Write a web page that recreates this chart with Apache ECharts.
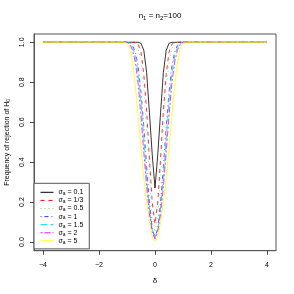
<!DOCTYPE html>
<html><head><meta charset="utf-8">
<script src="https://cdn.jsdelivr.net/npm/echarts@6/dist/echarts.min.js"></script>
<style>html,body{margin:0;padding:0;background:#fff}#c{width:294px;height:294px}</style>
</head><body><div id="c"></div>
<script>
const delta = [-4, -1.1, -1.0, -0.9, -0.8, -0.7, -0.6, -0.5, -0.4, -0.3, -0.2, -0.1, 0, 0.1, 0.2, 0.3, 0.4, 0.5, 0.6, 0.7, 0.8, 0.9, 1.0, 1.1, 4];
const sigma01  = [1, 1, 1, 1, 1, 1, 1, 0.995, 0.96, 0.85, 0.65, 0.44, 0.27, 0.44, 0.65, 0.85, 0.96, 0.995, 1, 1, 1, 1, 1, 1, 1];
const sigma13  = [1, 1, 1, 1, 1, 1, 0.99, 0.95, 0.84, 0.66, 0.42, 0.2, 0.09, 0.2, 0.42, 0.66, 0.84, 0.95, 0.99, 1, 1, 1, 1, 1, 1];
const sigma05  = [1, 1, 1, 1, 1, 0.995, 0.97, 0.9, 0.76, 0.56, 0.33, 0.13, 0.05, 0.13, 0.33, 0.56, 0.76, 0.9, 0.97, 0.995, 1, 1, 1, 1, 1];
const sigma1   = [1, 1, 1, 1, 0.985, 0.95, 0.88, 0.75, 0.58, 0.38, 0.2, 0.07, 0.02, 0.07, 0.2, 0.38, 0.58, 0.75, 0.88, 0.95, 0.985, 1, 1, 1, 1];
const sigma15  = [1, 1, 1, 0.995, 0.975, 0.93, 0.84, 0.7, 0.52, 0.33, 0.17, 0.06, 0.025, 0.06, 0.17, 0.33, 0.52, 0.7, 0.84, 0.93, 0.975, 0.995, 1, 1, 1];
const sigma2   = [1, 1, 1, 0.99, 0.96, 0.9, 0.79, 0.63, 0.45, 0.28, 0.14, 0.05, 0.015, 0.05, 0.14, 0.28, 0.45, 0.63, 0.79, 0.9, 0.96, 0.99, 1, 1, 1];
const sigma5   = [1, 1, 0.995, 0.97, 0.9, 0.78, 0.63, 0.47, 0.32, 0.2, 0.1, 0.03, 0.005, 0.03, 0.1, 0.2, 0.32, 0.47, 0.63, 0.78, 0.9, 0.97, 0.995, 1, 1];
const seriesNames = ['0.1', '1/3', '0.5', '1', '1.5', '2', '5'];
const seriesData = [sigma01, sigma13, sigma05, sigma1, sigma15, sigma2, sigma5];
const xTicks = [-4, -2, 0, 2, 4];
const yTicks = [0, 0.2, 0.4, 0.6, 0.8, 1.0];

const colors = ['#000000', '#ff0000', '#77dd77', '#3333ff', '#00dddd', '#ff00ff', '#ffff00'];
const dashes = ['solid', [4, 4], [1, 3], [1, 3, 4, 3], [7, 3], [2, 2, 6, 2], 'solid'];
const FONT = 'Liberation Sans, Arial, sans-serif';

const chart = echarts.init(document.getElementById('c'), null, {renderer: 'canvas'});
chart.setOption({
  animation: false,
  backgroundColor: '#fff',
  title: {
    text: 'n{s|1} = n{s|2}=100',
    left: 155, top: 6, textAlign: 'center',
    textStyle: {fontFamily: FONT, fontSize: 8, fontWeight: 'normal', color: '#000',
      rich: {s: {fontFamily: FONT, fontSize: 6, verticalAlign: 'bottom', padding: [4, 0, 0, 0]}}}
  },
  grid: {left: 34, top: 34, right: 18, bottom: 43.3, show: true, borderColor: '#555', borderWidth: 1,
    containLabel: false, outerBoundsMode: 'none'},
  legend: {
    orient: 'vertical', left: 34, top: 183.3,
    itemWidth: 13, itemHeight: 8, itemGap: 0.6,
    padding: [5.5, 6, 4, 6],
    borderColor: '#555', borderWidth: 1, backgroundColor: '#fff',
    itemStyle: {opacity: 0},
    lineStyle: {width: 1},
    data: seriesNames,
    formatter: n => 'σ{s|a} = ' + n,
    textStyle: {fontFamily: FONT, fontSize: 7, color: '#000', padding: [0, 0, 0, 0],
      rich: {s: {fontFamily: FONT, fontSize: 5, verticalAlign: 'bottom', padding: [3, 0, 0, 0]}}}
  },
  xAxis: {
    type: 'value', min: -4.32, max: 4.32,
    name: 'δ', nameLocation: 'middle', nameGap: 26,
    nameTextStyle: {fontFamily: FONT, fontSize: 8, color: '#000'},
    axisLine: {show: true, onZero: false, lineStyle: {color: '#555', width: 1}},
    splitLine: {show: false},
    axisTick: {show: true, inside: false, length: 4, lineStyle: {color: '#444'}, customValues: xTicks},
    axisLabel: {fontFamily: FONT, fontSize: 7, color: '#000', margin: 11, customValues: xTicks,
      formatter: v => (v < 0 ? '\u2212' : '') + Math.abs(v)}
  },
  yAxis: {
    type: 'value', min: -0.0435, max: 1.0415,
    name: 'Frequency of rejection of H{s|0}', nameLocation: 'middle', nameGap: 21, nameRotate: 90,
    nameTextStyle: {fontFamily: FONT, fontSize: 7, color: '#000',
      rich: {s: {fontFamily: FONT, fontSize: 5, verticalAlign: 'bottom', padding: [3, 0, 0, 0]}}},
    axisLine: {show: true, onZero: false, lineStyle: {color: '#555', width: 1}},
    splitLine: {show: false},
    axisTick: {show: true, inside: false, length: 4, lineStyle: {color: '#444'}, customValues: yTicks},
    axisLabel: {fontFamily: FONT, fontSize: 7, color: '#000', rotate: 90, margin: 8, customValues: yTicks,
      formatter: v => v.toFixed(1)}
  },
  series: seriesNames.map((n, i) => ({
    name: n, type: 'line', symbol: 'none', showSymbol: false,
    data: delta.map((d, j) => [d, seriesData[i][j]]),
    lineStyle: {color: colors[i], width: 0.8, type: dashes[i]},
    itemStyle: {color: colors[i]},
    z: 2 + i
  }))
});
</script></body></html>
